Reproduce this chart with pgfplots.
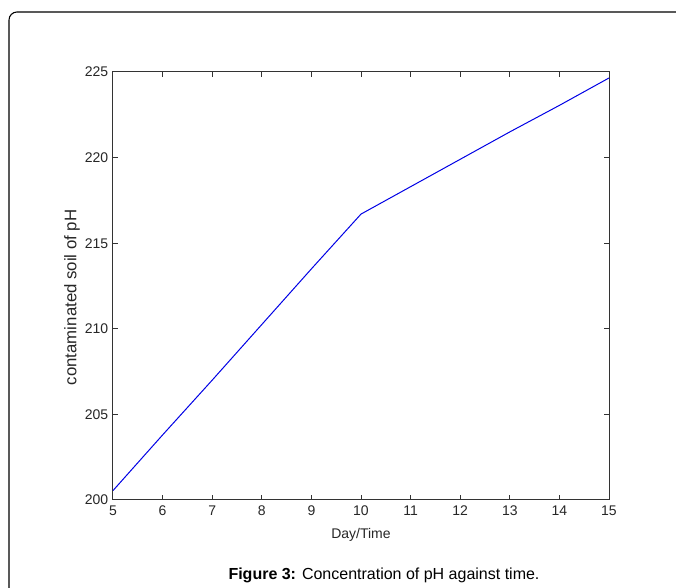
\documentclass[border=0pt]{standalone}
\usepackage{fontspec}
\setmainfont{Liberation Sans}
\usepackage{pgfplots}
\pgfplotsset{compat=1.18}

\begin{document}
\begin{tikzpicture}
% 1 px of the reference = 0.75pt
\useasboundingbox (0,0) rectangle (507pt,441pt);
% figure frame (rounded top-left corner, runs off the right and bottom)
\draw[black, line width=0.8pt, rounded corners=6pt]
  (510pt,432pt) -- (6.75pt,432pt) -- (6.75pt,-3pt);

\begin{axis}[
  at={(84.75pt,66pt)}, anchor=south west,
  scale only axis, width=372pt, height=321pt,
  xmin=5, xmax=15, ymin=200, ymax=225,
  xtick={5,6,...,15}, ytick={200,205,...,225},
  tick align=inside, major tick length=3.75pt,
  axis line style={black!80, line width=0.75pt},
  major tick style={black!80, line width=0.75pt},
  /pgf/number format/assume math mode=true,
  tick label style={font=\fontsize{10.5}{12}\selectfont, black!85},
  xticklabel style={yshift=-1pt},
]
\addplot[blue!90!black, line width=0.75pt, mark=none] coordinates {
  (5,200.55) (6,203.8) (7,207.0) (8,210.25) (9,213.5) (10,216.7)
  (11,218.3) (12,219.9) (13,221.5) (14,223.05) (15,224.65)};
\end{axis}

% axis labels and caption
\node[anchor=base, font=\fontsize{10.5}{12}\selectfont, black!85]
  at (270.75pt,36.75pt) {Day/Time};
\node[rotate=90, font=\fontsize{12.6}{14}\selectfont, black!85]
  at (54pt,218pt) {contaminated soil of pH};
\node[anchor=base, font=\fontsize{12}{14}\selectfont]
  at (288pt,6pt) {\textbf{Figure 3:} Concentration of pH against time.};
\end{tikzpicture}
\end{document}
